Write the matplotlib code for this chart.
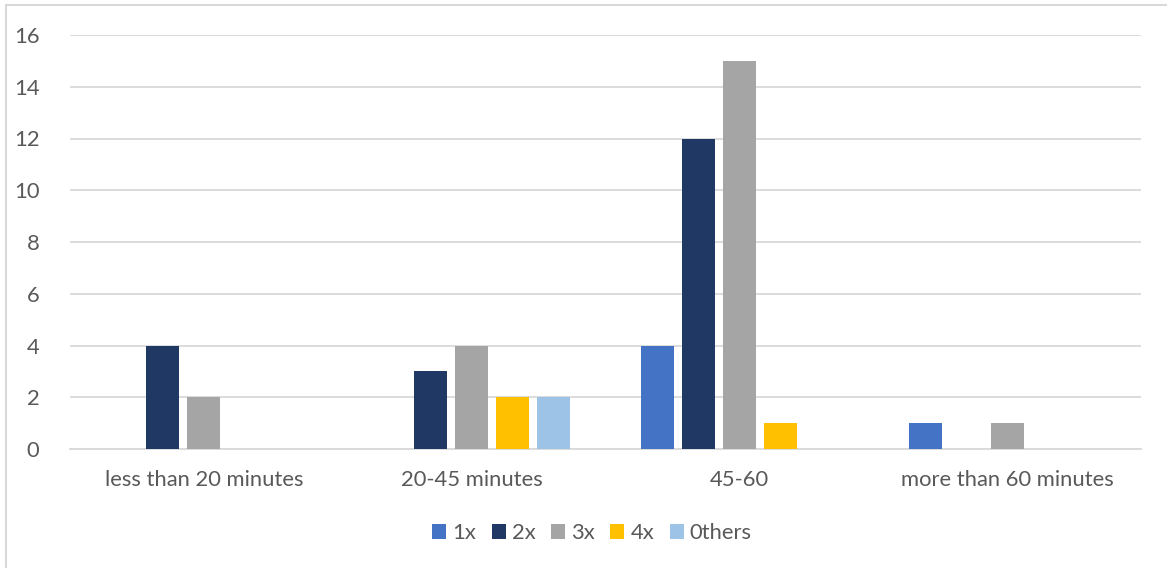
import matplotlib
matplotlib.use("Agg")
import matplotlib.pyplot as plt
from matplotlib.patches import Rectangle
import numpy as np

categories = ["less than 20 minutes", "20-45 minutes", "45-60", "more than 60 minutes"]
series_names = ["1x", "2x", "3x", "4x", "0thers"]
s_1x = [0, 0, 4, 1]
s_2x = [4, 3, 12, 0]
s_3x = [2, 4, 15, 1]
s_4x = [0, 2, 1, 0]
s_others = [0, 2, 0, 0]
colors = ["#4472C4", "#203864", "#A5A5A5", "#FFC000", "#9DC3E6"]
yticks = [0, 2, 4, 6, 8, 10, 12, 14, 16]

W, H = 1167, 568
fig = plt.figure(figsize=(W / 100, H / 100), dpi=100)
fig.patch.set_facecolor("white")
fig.patches.append(Rectangle((5.5 / W, -0.1), 1.2, 1 - 5.5 / H + 0.1, transform=fig.transFigure,
                             fill=False, edgecolor="#D9D9D9", linewidth=1.5, zorder=0))

ax = fig.add_axes([70 / W, (H - 449) / H, (1141 - 70) / W, (449 - 35) / H])
font = "Lato"
tc = "#595959"
fs = 15.8

x = np.arange(len(categories))
step = 0.153
bw = 0.123
data = [s_1x, s_2x, s_3x, s_4x, s_others]
for i, (name, vals, c) in enumerate(zip(series_names, data, colors)):
    ax.bar(x + (i - 2) * step, vals, width=bw, color=c, label=name, zorder=3)

ax.set_xlim(-0.5, len(categories) - 0.5)
ax.set_ylim(0, 16)
ax.set_yticks(yticks)
ax.set_yticklabels([str(t) for t in yticks], fontsize=fs, color=tc, family=font)
ax.set_xticks(x)
ax.set_xticklabels(categories, fontsize=fs, color=tc, family=font)
ax.tick_params(axis="both", length=0)
ax.tick_params(axis="y", pad=22)
ax.tick_params(axis="x", pad=15)
ax.grid(axis="y", color="#D9D9D9", linewidth=1.3, zorder=0)
for s in ["top", "right", "left"]:
    ax.spines[s].set_visible(False)
ax.spines["bottom"].set_color("#D9D9D9")
ax.spines["bottom"].set_linewidth(1.3)

leg = fig.legend(loc="center", bbox_to_anchor=(592 / W, (H - 533) / H), ncol=5, frameon=False,
                 handlelength=0.64, handleheight=0.64, handletextpad=0.28, columnspacing=0.7,
                 borderpad=0, prop={"family": font, "size": fs})
for t in leg.get_texts():
    t.set_color(tc)

fig.savefig("out.png", dpi=100, facecolor="white")
